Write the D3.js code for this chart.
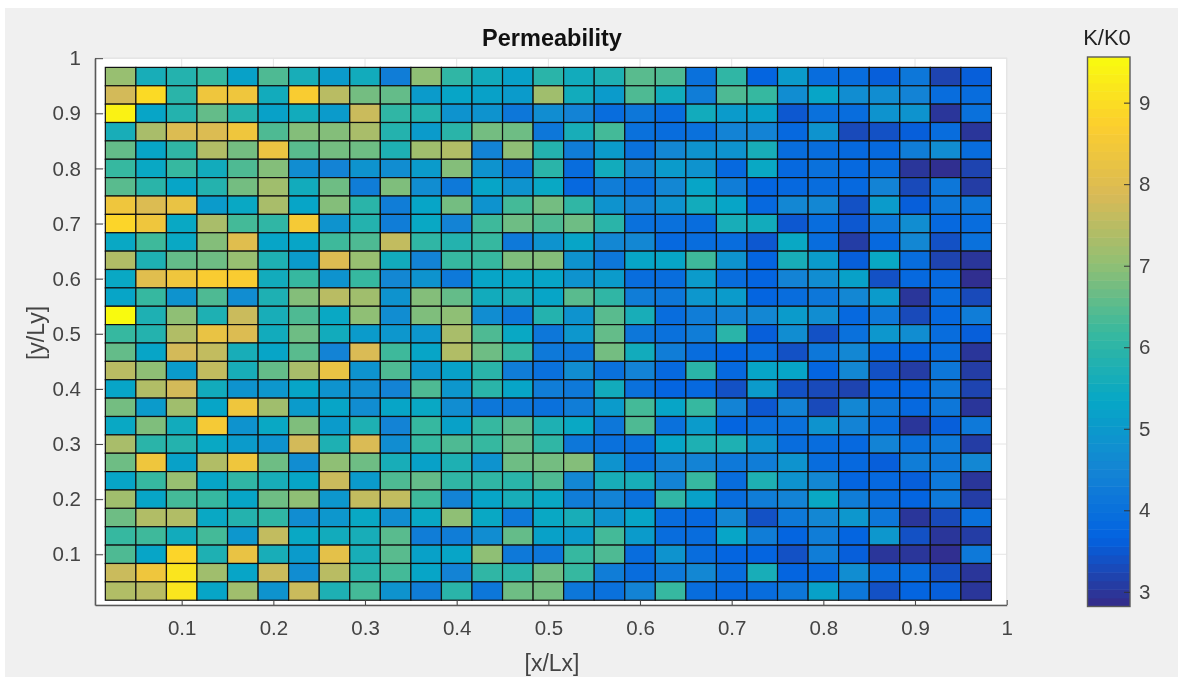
<!DOCTYPE html>
<html>
<head>
<meta charset="utf-8">
<title>Permeability</title>
<script src="https://cdn.jsdelivr.net/npm/d3@7"></script>
<style>
  html, body { margin: 0; padding: 0; background: #fff; overflow: hidden; }
  svg { display: block; filter: blur(0.45px); }
  text { font-family: "Liberation Sans", Arial, sans-serif; }
</style>
</head>
<body>
<script>
'use strict';

// K/K0 per cell, top row first
const permeability = [
  [7.1,5.65,5.85,6.15,5.2,6.4,5.65,5.05,5.55,4.3,7.0,6.05,5.55,5.2,5.95,5.55,5.75,6.5,6.4,4.0,6.05,3.7,5.05,3.9,3.9,3.6,4.15,3.2,3.6],
  [7.8,8.95,5.95,8.4,8.4,5.55,8.65,7.5,6.75,6.6,5.05,5.3,5.2,5.05,7.2,5.55,5.05,6.4,5.55,4.3,6.4,6.15,4.7,5.3,4.7,4.7,4.45,3.9,3.9],
  [9.4,5.3,5.85,6.6,5.85,5.2,5.55,5.05,7.7,6.05,5.85,4.85,4.85,4.15,4.7,4.45,3.9,4.15,3.9,5.55,5.05,5.2,3.5,4.0,3.9,4.85,4.85,3.0,4.0],
  [5.65,7.3,7.95,7.95,8.4,6.4,6.9,6.9,7.3,5.85,5.05,5.95,6.75,6.7,4.15,5.65,6.3,4.0,3.9,4.0,4.45,4.45,3.8,4.85,3.3,3.4,3.6,3.9,3.0],
  [6.6,5.3,6.05,7.4,6.75,8.3,6.5,6.75,6.7,5.75,7.2,7.4,4.45,7.0,5.85,4.3,5.05,4.0,4.55,4.85,4.85,5.65,3.9,3.9,3.8,3.8,4.3,4.7,3.9],
  [6.15,5.4,6.15,5.55,6.4,6.9,4.7,4.45,4.85,4.7,5.05,6.9,4.85,4.15,5.95,3.9,5.55,4.55,5.05,4.85,3.8,5.4,3.8,4.0,3.8,3.9,3.0,2.9,3.2],
  [6.5,5.95,5.3,5.85,6.75,7.2,5.55,6.7,4.3,6.85,4.7,4.2,5.3,4.85,5.4,3.8,4.3,4.0,4.55,5.3,4.3,3.7,3.8,3.9,3.8,4.45,3.3,4.15,3.1],
  [8.4,7.95,8.25,5.05,5.4,7.3,5.3,6.9,5.95,4.3,5.3,6.75,4.85,6.3,6.75,6.05,4.85,4.45,4.85,5.55,5.3,3.8,4.55,4.55,3.4,5.05,3.6,4.15,4.15],
  [8.85,8.4,5.4,7.3,6.3,6.05,8.55,4.85,5.85,4.3,5.4,4.45,6.25,6.7,6.4,6.7,5.95,4.0,4.0,3.9,5.65,5.55,3.5,3.9,3.5,4.2,4.7,3.8,3.9],
  [5.4,6.25,5.4,6.9,8.05,5.3,5.3,6.25,6.4,7.6,6.05,5.85,6.15,4.2,4.85,5.3,4.55,4.55,3.8,3.9,3.9,3.5,5.4,3.9,3.1,3.8,4.55,3.4,4.0],
  [7.4,5.75,6.6,6.7,7.1,5.75,5.05,7.95,7.1,5.55,4.45,6.15,6.15,6.85,6.9,4.85,4.15,5.3,5.3,6.25,4.85,3.7,5.65,5.05,3.6,5.4,3.9,3.2,3.0],
  [5.4,8.05,8.4,8.65,8.65,5.55,6.15,4.85,6.15,4.55,4.85,4.2,5.3,5.3,5.3,4.85,5.05,3.9,3.9,5.05,3.9,3.7,4.45,4.7,5.2,3.4,3.8,3.8,2.9],
  [5.3,6.15,4.85,6.4,4.7,5.75,6.9,7.5,7.2,4.85,6.9,6.6,5.55,5.65,5.3,6.5,6.05,4.3,4.15,4.95,5.05,3.7,3.9,4.15,4.55,5.05,3.0,3.9,3.3],
  [9.55,5.75,7.0,5.75,7.7,5.65,6.4,5.4,7.0,4.7,6.85,7.0,4.7,4.15,5.85,4.85,6.5,5.65,3.9,4.3,4.45,4.55,5.05,4.7,3.8,4.2,3.3,3.8,4.3],
  [6.15,5.85,7.4,8.25,7.95,5.55,6.7,5.55,5.05,4.95,4.95,7.3,6.4,5.4,4.15,4.95,6.6,4.15,4.0,4.3,5.95,3.6,4.7,3.4,4.0,4.95,4.7,3.9,3.6],
  [6.6,5.3,7.8,7.6,5.65,5.3,6.5,4.45,7.9,6.25,5.3,7.4,6.7,6.15,4.2,4.15,6.75,5.55,4.3,3.9,3.7,3.9,3.4,4.15,4.55,3.8,3.7,3.9,3.0],
  [7.5,7.0,5.05,7.6,5.65,6.6,7.3,8.25,4.85,6.4,4.95,5.2,5.95,4.3,4.0,4.7,4.0,4.45,3.8,5.95,3.8,5.3,5.3,3.7,4.55,3.4,3.1,4.15,3.1],
  [5.3,7.4,7.8,5.55,4.85,4.95,5.3,4.85,4.7,4.45,6.4,4.95,5.95,5.3,4.3,4.2,5.55,4.0,3.7,3.8,3.4,5.05,3.4,3.3,3.2,3.7,3.7,4.15,3.2],
  [6.75,5.05,7.2,5.3,8.4,7.2,5.05,5.3,4.7,5.3,5.4,4.7,4.15,4.15,4.0,4.3,5.05,6.3,5.3,6.15,4.45,3.5,4.45,3.3,4.55,4.15,3.8,4.15,3.0],
  [5.4,6.85,5.55,8.55,4.85,5.4,6.85,5.05,5.75,4.45,6.15,5.2,6.15,6.5,5.75,5.4,4.15,6.4,4.0,5.05,3.7,4.0,4.0,4.85,4.45,3.9,3.0,3.6,4.2],
  [7.3,5.95,5.85,5.4,5.05,4.85,7.8,5.75,7.9,4.7,6.15,6.4,6.15,6.6,6.05,4.15,4.0,4.0,5.3,5.75,5.75,4.85,3.9,3.9,3.8,4.45,4.0,4.2,3.1],
  [6.7,8.4,5.2,7.4,8.4,6.7,4.7,7.0,6.7,5.65,5.2,5.75,4.85,6.7,6.75,6.9,4.85,4.0,4.45,4.45,4.2,4.3,4.85,3.9,3.8,3.6,4.3,4.2,4.55],
  [5.3,6.15,7.1,5.3,6.05,5.65,5.3,7.7,5.05,6.4,6.6,6.05,6.05,5.95,6.4,4.55,5.65,5.65,4.45,6.15,3.9,5.75,4.85,4.55,3.7,3.8,3.6,4.2,3.0],
  [7.2,5.3,6.3,6.15,5.3,6.7,7.0,4.95,7.6,7.6,6.25,4.45,5.3,5.65,5.4,4.3,4.45,4.0,6.05,5.2,3.9,4.3,4.45,5.4,4.3,3.9,3.7,4.2,3.1],
  [6.7,7.4,7.4,5.4,5.85,6.05,4.7,4.95,5.4,4.7,5.4,7.0,5.4,4.2,5.4,5.65,4.85,5.3,3.9,3.8,4.55,3.4,4.2,4.55,4.95,4.15,3.0,3.3,4.0],
  [6.15,6.25,5.55,6.3,4.95,7.6,5.4,5.55,5.65,6.5,4.3,4.3,4.7,6.6,5.2,5.05,6.3,5.05,3.9,3.9,5.3,4.3,3.7,4.3,3.7,4.95,3.4,3.0,3.1],
  [6.4,5.3,8.85,5.75,8.25,5.65,5.05,8.15,5.65,6.5,5.2,5.3,7.0,4.2,4.15,6.15,6.4,3.9,4.85,3.9,3.7,3.7,3.4,4.3,3.6,3.0,3.0,2.9,4.2],
  [7.7,8.4,9.15,7.2,5.3,7.7,4.7,7.5,5.95,6.3,5.3,4.45,6.05,5.95,6.7,6.15,4.3,3.9,4.2,4.55,3.9,5.65,3.7,3.8,4.7,3.9,3.9,3.4,3.0],
  [7.4,7.5,9.15,5.3,7.2,4.85,7.7,5.75,6.3,4.85,4.3,5.95,4.15,6.7,6.75,4.15,4.0,4.45,6.15,3.9,3.8,3.9,4.15,5.2,4.15,3.4,3.7,3.6,3.0]
];

const xTicks = [0.1, 0.2, 0.3, 0.4, 0.5, 0.6, 0.7, 0.8, 0.9, 1];
const yTicks = [0.1, 0.2, 0.3, 0.4, 0.5, 0.6, 0.7, 0.8, 0.9, 1];
const barTicks = [3, 4, 5, 6, 7, 8, 9];
const parula = ["#352a87", "#0363e1", "#1485d4", "#06a7c6", "#38b99e", "#92bf73", "#d9ba56", "#fcce2e", "#f9fb0e"];

const kMin = 2.82, kMax = 9.56;
const nCells = 29;

const svg = d3.select('body').append('svg')
  .attr('width', 1178)
  .attr('height', 677);

// grey figure background, white strip on top and left like the screenshot
svg.append('rect')
  .attr('x', 5).attr('y', 8)
  .attr('width', 1173).attr('height', 669)
  .attr('fill', '#f0f0f0');

const x = d3.scaleLinear().domain([0.0054, 1]).range([95, 1006.7]);
const y = d3.scaleLinear().domain([0.008, 1]).range([605, 58.2]);

// colour: parula stops spread evenly over the K/K0 range
const colorDomain = parula.map((c, i) => kMin + (kMax - kMin) * i / (parula.length - 1));
const color = d3.scaleLinear().domain(colorDomain).range(parula).clamp(true);

svg.append('rect')
  .attr('x', 95).attr('y', 58.2)
  .attr('width', 911.7).attr('height', 546.8)
  .attr('fill', '#fff')
  .attr('stroke', '#e2e2e2');

// grid lines
svg.append('g').selectAll('line').data(xTicks).enter().append('line')
  .attr('x1', d => x(d)).attr('x2', d => x(d))
  .attr('y1', y.range()[0]).attr('y2', y.range()[1])
  .attr('stroke', '#e4e4e4');
svg.append('g').selectAll('line').data(yTicks).enter().append('line')
  .attr('y1', d => y(d)).attr('y2', d => y(d))
  .attr('x1', x.range()[0]).attr('x2', x.range()[1])
  .attr('stroke', '#e4e4e4');

// cells, edges sit at (i + 0.5) / 30 in both directions
const cells = [];
permeability.forEach((row, r) => row.forEach((k, c) => cells.push({ r: r, c: c, k: k })));

svg.append('g').selectAll('rect').data(cells).enter().append('rect')
  .attr('x', d => x((d.c + 0.5) / 30))
  .attr('y', d => y((nCells - d.r + 0.5) / 30))
  .attr('width', d => x((d.c + 1.5) / 30) - x((d.c + 0.5) / 30))
  .attr('height', d => y((nCells - d.r - 0.5) / 30) - y((nCells - d.r + 0.5) / 30))
  .attr('fill', d => color(d.k))
  .attr('stroke', '#111')
  .attr('stroke-width', 1.2);

// axes
const xAxis = svg.append('g')
  .attr('transform', 'translate(0,605)')
  .call(d3.axisBottom(x).tickValues(xTicks).tickFormat(d3.format('')).tickSizeInner(-5).tickSizeOuter(0).tickPadding(15));
const yAxis = svg.append('g')
  .attr('transform', 'translate(95,0)')
  .call(d3.axisLeft(y).tickValues(yTicks).tickFormat(d3.format('')).tickSizeInner(-8).tickSizeOuter(0).tickPadding(14));

[xAxis, yAxis].forEach(a => {
  a.attr('font-family', null).attr('font-size', null);
  a.select('.domain').attr('stroke', '#5a5a5a').attr('stroke-width', 1.6);
  a.selectAll('.tick line').attr('stroke', '#444');
  a.selectAll('.tick text').attr('fill', '#444').style('font-size', '20.5px');
});

// labels
svg.append('text')
  .attr('x', 552).attr('y', 46)
  .attr('text-anchor', 'middle')
  .style('font-size', '23.5px').style('font-weight', 'bold')
  .attr('fill', '#111')
  .text('Permeability');

svg.append('text')
  .attr('x', 552).attr('y', 671)
  .attr('text-anchor', 'middle')
  .style('font-size', '23px')
  .attr('fill', '#444')
  .text('[x/Lx]');

svg.append('text')
  .attr('transform', 'translate(44,333)rotate(-90)')
  .attr('text-anchor', 'middle')
  .style('font-size', '23px')
  .attr('fill', '#444')
  .text('[y/Ly]');

// colorbar
const barY = d3.scaleLinear().domain([kMin, kMax]).range([606.5, 57]);
const levels = d3.range(64).map(i => kMin + (kMax - kMin) * (i + 0.5) / 64);
const step = (kMax - kMin) / 64;

svg.append('g').selectAll('rect').data(levels).enter().append('rect')
  .attr('x', 1087.5)
  .attr('y', d => barY(d + step / 2))
  .attr('width', 42.5)
  .attr('height', d => barY(d - step / 2) - barY(d + step / 2) + 0.5)
  .attr('fill', d => color(d));

svg.append('rect')
  .attr('x', 1087.5).attr('y', 57)
  .attr('width', 42.5).attr('height', 549.5)
  .attr('fill', 'none')
  .attr('stroke', '#5a5a5a')
  .attr('stroke-width', 1.4);

const barAxis = svg.append('g')
  .attr('transform', 'translate(1130,0)')
  .call(d3.axisRight(barY).tickValues(barTicks).tickFormat(d3.format('d')).tickSizeInner(-6).tickSizeOuter(0).tickPadding(9));
barAxis.attr('font-family', null).attr('font-size', null);
barAxis.select('.domain').remove();
barAxis.selectAll('.tick line').attr('stroke', '#333');
barAxis.selectAll('.tick text').attr('fill', '#444').style('font-size', '20.5px');

svg.append('text')
  .attr('x', 1107).attr('y', 45)
  .attr('text-anchor', 'middle')
  .style('font-size', '22px')
  .attr('fill', '#222')
  .text('K/K0');
</script>
</body>
</html>
